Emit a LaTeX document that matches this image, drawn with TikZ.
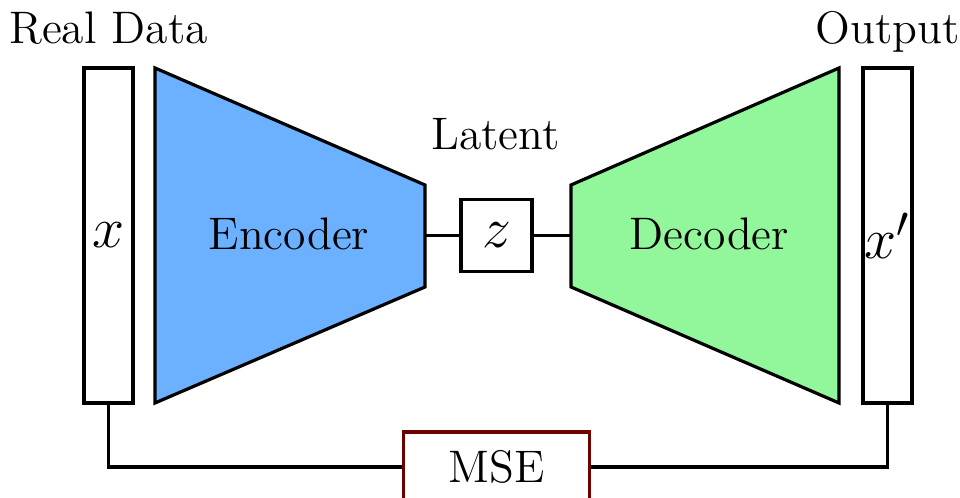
\documentclass[tikz,border=0pt]{standalone}
\definecolor{encblue}{HTML}{6CB1FF}
\definecolor{decgreen}{HTML}{91F79A}
\definecolor{lossred}{HTML}{6E0000}
\begin{document}
\begin{tikzpicture}[x=0.25pt,y=-0.25pt,line width=0.8pt,
  lbl/.style={font=\fontsize{11.4}{13}\selectfont, anchor=base, inner sep=0},
  vec/.style={draw, fill=white, minimum width=12.25pt, minimum height=83.75pt,
    inner sep=0, font=\fontsize{15.5}{19}\selectfont},
  latentbox/.style={draw, fill=white, minimum width=17.75pt, minimum height=18pt,
    inner sep=0, font=\fontsize{15.5}{19}\selectfont},
  lossbox/.style={draw=lossred, fill=white, minimum width=46.5pt, minimum height=17.5pt,
    inner sep=0, font=\fontsize{11.4}{13}\selectfont},
]
\useasboundingbox (0,0) rectangle (960,498);

% input and reconstruction columns
\node[vec] (xin)  at (108.5,235.5) {$x$};
\node[vec] (xout) at (887.5,235.5) {$x'$};

% encoder
\coordinate (e1) at (155,68);
\coordinate (e2) at (425,185);
\coordinate (e3) at (425,287);
\coordinate (e4) at (155,403);
\draw[fill=encblue] (e1) -- (e2) -- (e3) -- (e4) -- cycle;
\node[lbl] (enc) at (289,250) {Encoder};

% decoder
\coordinate (d1) at (571,185);
\coordinate (d2) at (839,68);
\coordinate (d3) at (839,403);
\coordinate (d4) at (571,287);
\draw[fill=decgreen] (d1) -- (d2) -- (d3) -- (d4) -- cycle;
\node[lbl] (dec) at (709.5,250) {Decoder};

% latent code
\node[latentbox] (z) at (496.5,235.5) {$z$};
\coordinate (encR) at (425,235.5);
\coordinate (decL) at (571,235.5);
\draw (encR) -- (z);
\draw (z) -- (decL);

% labels
\node[lbl] (lreal) at (108.5,44) {Real Data};
\node[lbl] (lout)  at (887.5,44) {Output};
\node[lbl] (llat)  at (495.5,150) {Latent};

% reconstruction loss
\node[lossbox] (mse) at (496.5,467) {MSE};
\draw (xin.south) |- (mse.west);
\draw (xout.south) |- (mse.east);
\end{tikzpicture}
\end{document}
